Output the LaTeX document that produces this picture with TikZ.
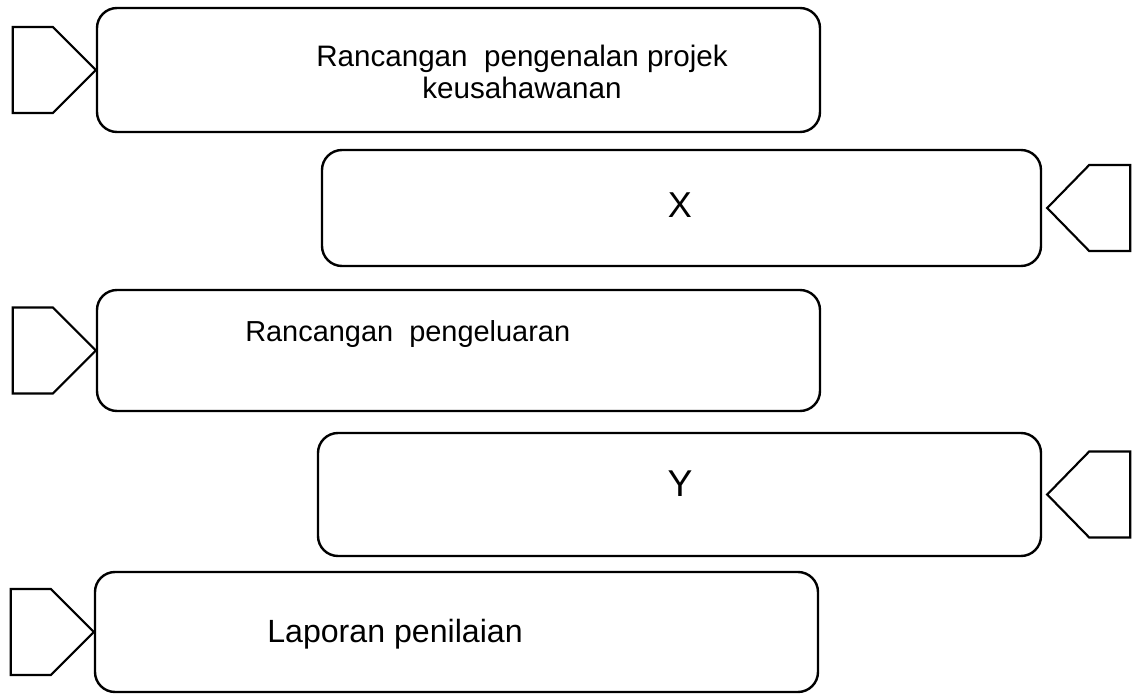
\documentclass[tikz,border=0pt]{standalone}
\usepackage{fontspec}
\setmainfont{Liberation Sans}
\begin{document}
\begin{tikzpicture}[x=0.75pt,y=-0.75pt,
  box/.style={draw, line width=1.8pt, rounded corners=15pt, inner sep=0pt},
  tag/.style={draw, line width=1.6pt, line join=miter},
  lbl/.style={inner sep=0pt, text=black}]
\useasboundingbox (0,0) rectangle (1133,695);
% boxes
\node[box, minimum width=542.25pt, minimum height=93pt]    (b1) at (458.5,70)  {};
\node[box, minimum width=539.25pt, minimum height=87pt]    (b2) at (681.5,208) {};
\node[box, minimum width=542.25pt, minimum height=90.75pt] (b3) at (458.5,350.5) {};
\node[box, minimum width=542.25pt, minimum height=92.25pt] (b4) at (679.5,494.5) {};
\node[box, minimum width=542.25pt, minimum height=90pt]    (b5) at (456.5,632) {};
% pentagon tags
\draw[tag] (b1.west) -- ++(-43,-43) -- ++(-40,0) -- ++(0,86) -- ++(40,0) -- cycle;
\draw[tag] (b3.west) -- ++(-43,-43) -- ++(-40,0) -- ++(0,86) -- ++(40,0) -- cycle;
\draw[tag] (b5.west) -- ++(-43,-43) -- ++(-40,0) -- ++(0,86) -- ++(40,0) -- cycle;
\draw[tag] ([xshift=3.75pt]b2.east) -- ++(42,-43) -- ++(41,0) -- ++(0,86) -- ++(-41,0) -- cycle;
\draw[tag] ([xshift=3.75pt]b4.east) -- ++(42,-43) -- ++(41,0) -- ++(0,86) -- ++(-41,0) -- cycle;
% labels
\node[lbl, align=center, font=\fontsize{22.2}{23.5}\selectfont] (t1) at (522,72) {Rancangan~ pengenalan projek\\keusahawanan};
\node[lbl, font=\fontsize{27}{27}\selectfont] (t2) at (680,205) {X};
\node[lbl, anchor=base west, font=\fontsize{21.7}{21.7}\selectfont] (t3) at (245,342) {Rancangan~ pengeluaran};
\node[lbl, font=\fontsize{28}{28}\selectfont] (t4) at (680,484) {Y};
\node[lbl, anchor=base west, font=\fontsize{24.1}{24.1}\selectfont] (t5) at (267,642) {Laporan penilaian};
\end{tikzpicture}
\end{document}
